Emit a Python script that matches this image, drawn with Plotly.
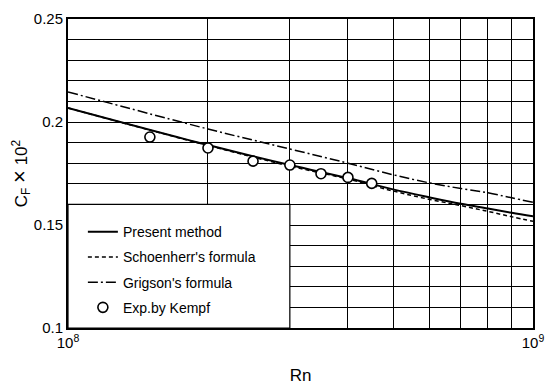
import plotly.graph_objects as go

# Reynolds numbers of the curve nodes
rn_curve = [1e8, 2e8, 3e8, 4e8, 5e8, 6e8, 7e8, 8e8, 9e8, 1e9]

# Frictional resistance coefficient C_F x 10^2
cf_present = [0.2068, 0.1888, 0.1791, 0.1728, 0.1673, 0.1634, 0.1603, 0.1580, 0.1559, 0.1542]
cf_schoenherr = [0.2068, 0.1886, 0.1786, 0.1723, 0.1665, 0.1624, 0.1594, 0.1566, 0.1540, 0.1518]
cf_grigson = [0.2146, 0.1966, 0.1869, 0.1800, 0.1744, 0.1704, 0.1677, 0.1656, 0.1632, 0.1610]

# Kempf's experimental points
rn_kempf = [1.5e8, 2e8, 2.5e8, 3e8, 3.5e8, 4e8, 4.5e8]
cf_kempf = [0.1927, 0.1874, 0.1810, 0.1791, 0.1749, 0.1731, 0.1702]

# Axis ticks
x_tickvals = [1e8, 2e8, 3e8, 4e8, 5e8, 6e8, 7e8, 8e8, 9e8, 1e9]
x_ticktext = ["10<sup>8</sup>", "", "", "", "", "", "", "", "", "10<sup>9</sup>"]
y_tickvals = [0.1, 0.15, 0.2, 0.25]
y_ticktext = ["0.1", "0.15", "0.2", "0.25"]

FONT = "Liberation Sans, Arial, sans-serif"

fig = go.Figure()

fig.add_trace(go.Scatter(
    x=rn_curve, y=cf_present, mode="lines", name="Present method",
    line=dict(color="black", width=2, shape="spline"), legendgroup="a"))
fig.add_trace(go.Scatter(
    x=rn_curve, y=cf_schoenherr, mode="lines", name="Schoenherr's formula",
    line=dict(color="black", width=1.5, dash="4px,3px", shape="spline"), legendgroup="b"))
fig.add_trace(go.Scatter(
    x=rn_curve, y=cf_grigson, mode="lines", name="Grigson's formula",
    line=dict(color="black", width=1.5, dash="10px,3px,2px,3px", shape="spline"), legendgroup="c"))
fig.add_trace(go.Scatter(
    x=rn_kempf, y=cf_kempf, mode="markers", name="Exp.by Kempf",
    marker=dict(symbol="circle", size=10, color="white",
                line=dict(color="black", width=1.6)), legendgroup="d"))

# White legend panel in the lower-left corner, covering the grid
fig.add_shape(type="rect", xref="x", yref="y",
              x0=1e8, x1=3e8, y0=0.1, y1=0.16,
              fillcolor="white", line=dict(color="black", width=1.2),
              layer="between")

fig.update_layout(
    width=549, height=387,
    margin=dict(l=68, r=16, t=19, b=59),
    paper_bgcolor="white", plot_bgcolor="white",
    font=dict(family=FONT, size=15, color="black"),
    showlegend=True,
    legend=dict(
        x=0.032, y=0.362, xanchor="left", yanchor="top",
        bgcolor="rgba(0,0,0,0)", borderwidth=0,
        font=dict(family=FONT, size=14, color="black"),
        tracegroupgap=4, traceorder="grouped",
    ),
    xaxis=dict(
        type="log", range=[8, 9], automargin=False,
        tickvals=x_tickvals, ticktext=x_ticktext, ticks="",
        showgrid=True, gridcolor="black", gridwidth=1,
        showline=True, linecolor="black", linewidth=2, mirror=True,
        zeroline=False,
        tickfont=dict(size=15),
        title=dict(text="Rn", font=dict(size=17), standoff=19),
    ),
    yaxis=dict(
        range=[0.1, 0.25], automargin=False,
        tickvals=y_tickvals, ticktext=y_ticktext, ticks="",
        showgrid=True, gridcolor="black", gridwidth=1,
        minor=dict(dtick=0.01, tick0=0.1, showgrid=True, gridcolor="black", gridwidth=1),
        showline=True, linecolor="black", linewidth=2, mirror=True,
        zeroline=False,
        tickfont=dict(size=15),
        title=dict(text="C<sub>F</sub> <span style='font-size:22px'>×</span> 10<sup>2</sup>",
                   font=dict(size=17), standoff=2),
    ),
)

fig.write_html("out.html")
